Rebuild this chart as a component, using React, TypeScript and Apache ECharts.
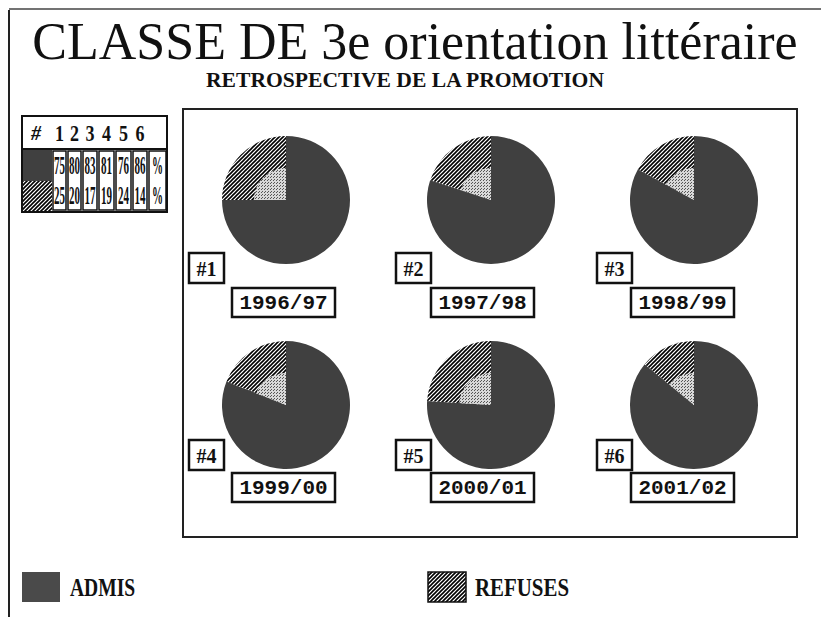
import React, { useEffect, useRef } from "react";
import * as echarts from "echarts";

// ---------------- DATA ----------------
const years = ["1996/97", "1997/98", "1998/99", "1999/00", "2000/01", "2001/02"];
const promoIds = ["#1", "#2", "#3", "#4", "#5", "#6"];
const admis = [75, 80, 83, 81, 76, 86];
const refuses = [25, 20, 17, 19, 24, 14];
const categoryNames = ["ADMIS", "REFUSES"];
const tableHeader = ["#", "1", "2", "3", "4", "5", "6"];
const unitLabel = "%";
const titleText = "CLASSE DE 3e orientation littéraire";
const subtitleText = "RETROSPECTIVE DE LA PROMOTION";

// ---------------- LAYOUT / STYLE ----------------
const DARK = "#404040";
const PIE_CX = [286, 491, 694];
const PIE_CY = [200, 405];
const PIE_R = 64;
const ID_X = [189, 396, 597];
const ID_Y = [253, 440];
const YEAR_X = [232, 431, 631];
const YEAR_Y = [288, 473];
const COL_EDGES = [52, 67, 82, 98, 115, 132, 148, 167];
const SERIF = "'Liberation Serif', 'DejaVu Serif', serif";
const MONO = "'Liberation Mono', 'DejaVu Sans Mono', monospace";

function makeHatch(): any {
  const c = document.createElement("canvas");
  const s = 4;
  c.width = s;
  c.height = s;
  const g = c.getContext("2d")!;
  g.fillStyle = "#ffffff";
  g.fillRect(0, 0, s, s);
  g.strokeStyle = "#000000";
  g.lineWidth = 1.6;
  g.beginPath();
  g.moveTo(-1, 1); g.lineTo(1, -1);
  g.moveTo(0, s); g.lineTo(s, 0);
  g.moveTo(s - 1, s + 1); g.lineTo(s + 1, s - 1);
  g.stroke();
  return { image: c, repeat: "repeat" };
}

function makeDots(): any {
  const c = document.createElement("canvas");
  c.width = 3;
  c.height = 3;
  const g = c.getContext("2d")!;
  g.fillStyle = "#d8d8d8";
  g.fillRect(0, 0, 3, 3);
  g.fillStyle = "#555555";
  g.fillRect(0, 0, 1, 1);
  g.fillRect(1, 2, 1, 1);
  return { image: c, repeat: "repeat" };
}

function txt(text: string, x: number, y: number, font: string, align = "left", extra: any = {}) {
  return {
    type: "text",
    x,
    y,
    silent: true,
    ...extra,
    style: {
      text,
      font,
      fill: "#111",
      textAlign: align,
      align,
      textVerticalAlign: "middle",
      verticalAlign: "middle",
    },
  };
}

export default function App() {
  const ref = useRef<HTMLDivElement>(null);

  useEffect(() => {
    if (!ref.current) return;
    const chart = echarts.init(ref.current, null, { renderer: "svg" });
    const hatch = makeHatch();
    const dots = makeDots();

    const series: any[] = [];
    years.forEach((_, i) => {
      const center = [PIE_CX[i % 3], PIE_CY[Math.floor(i / 3)]];
      series.push({
        type: "pie",
        name: years[i],
        center,
        radius: PIE_R,
        startAngle: 90,
        clockwise: true,
        silent: true,
        label: { show: false },
        labelLine: { show: false },
        itemStyle: { borderWidth: 0 },
        data: [
          { name: categoryNames[0], value: admis[i], itemStyle: { color: DARK } },
          { name: categoryNames[1], value: refuses[i], itemStyle: { color: hatch } },
        ],
      });
      series.push({
        type: "pie",
        name: years[i] + " inner",
        center,
        radius: [0, PIE_R * 0.5],
        startAngle: 90,
        clockwise: true,
        silent: true,
        z: 3,
        label: { show: false },
        labelLine: { show: false },
        itemStyle: { borderWidth: 0 },
        data: [
          { name: categoryNames[0], value: admis[i], itemStyle: { color: "transparent" } },
          { name: categoryNames[1], value: refuses[i], itemStyle: { color: dots } },
        ],
      });
    });

    const graphics: any[] = [];
    // page frame
    graphics.push({ type: "line", shape: { x1: 9, y1: 10, x2: 9, y2: 617 }, style: { stroke: "#222", lineWidth: 2 } });
    graphics.push({ type: "line", shape: { x1: 9, y1: 9, x2: 821, y2: 9 }, style: { stroke: "#444", lineWidth: 1.5 } });
    // titles
    graphics.push(txt(titleText, 415, 41, `52px ${SERIF}`, "center", { scaleY: 1.02 }));
    graphics.push(txt(subtitleText, 405, 80, `bold 21px ${SERIF}`, "center", { scaleX: 1.03 }));
    // main plot box
    graphics.push({ type: "rect", shape: { x: 183, y: 109, width: 614, height: 428 }, style: { fill: "none", stroke: "#222", lineWidth: 2 } });

    // labels per pie
    years.forEach((y, i) => {
      const col = i % 3;
      const row = Math.floor(i / 3);
      graphics.push({ type: "rect", shape: { x: ID_X[col], y: ID_Y[row], width: 35, height: 30 }, style: { fill: "#fff", stroke: "#111", lineWidth: 2.5 } });
      graphics.push(txt(promoIds[i], ID_X[col] + 17.5, ID_Y[row] + 16, `bold 20px ${SERIF}`, "center"));
      graphics.push({ type: "rect", shape: { x: YEAR_X[col], y: YEAR_Y[row], width: 103, height: 29 }, style: { fill: "#fff", stroke: "#111", lineWidth: 2.5 } });
      graphics.push(txt(y, YEAR_X[col] + 51.5, YEAR_Y[row] + 15, `bold 21px ${MONO}`, "center"));
    });

    // data table
    graphics.push({ type: "rect", shape: { x: 22, y: 116, width: 145, height: 96 }, style: { fill: "#fff", stroke: "#111", lineWidth: 2 } });
    graphics.push({ type: "line", shape: { x1: 22, y1: 149, x2: 167, y2: 149 }, style: { stroke: "#111", lineWidth: 2 } });
    graphics.push({ type: "rect", shape: { x: 23, y: 150, width: 29, height: 31 }, style: { fill: DARK } });
    graphics.push({ type: "rect", shape: { x: 23, y: 181, width: 29, height: 30 }, style: { fill: hatch } });
    graphics.push(txt(tableHeader[0], 36, 133, `bold italic 20px ${SERIF}`, "center"));
    for (let j = 0; j < 7; j++) {
      const x0 = COL_EDGES[j];
      const x1 = COL_EDGES[j + 1];
      const cx = (x0 + x1) / 2;
      if (j < 6) graphics.push(txt(tableHeader[j + 1], cx, 133, `bold 18px ${SERIF}`, "center", { scaleY: 1.25 }));
      graphics.push({ type: "rect", shape: { x: x0 + 1, y: 151, width: x1 - x0 - 2, height: 59 }, style: { fill: "#fff", stroke: "#111", lineWidth: 1.5 } });
      const v1 = j < 6 ? String(admis[j]) : unitLabel;
      const v2 = j < 6 ? String(refuses[j]) : unitLabel;
      graphics.push(txt(v1, cx, 166, `bold 13px ${SERIF}`, "center", { scaleY: 1.9, scaleX: 0.85 }));
      graphics.push(txt(v2, cx, 196, `bold 13px ${SERIF}`, "center", { scaleY: 1.9, scaleX: 0.85 }));
    }

    // legend
    graphics.push({ type: "rect", shape: { x: 22, y: 572, width: 38, height: 30 }, style: { fill: "#4a4a4a" } });
    graphics.push(txt(categoryNames[0], 70, 588, `bold 19px ${SERIF}`, "left", { scaleY: 1.3, scaleX: 1.03 }));
    graphics.push({ type: "rect", shape: { x: 428, y: 572, width: 38, height: 30 }, style: { fill: hatch, stroke: "#111", lineWidth: 1.5 } });
    graphics.push(txt(categoryNames[1], 475, 588, `bold 19px ${SERIF}`, "left", { scaleY: 1.3, scaleX: 1.1 }));

    chart.setOption({
      animation: false,
      backgroundColor: "#ffffff",
      series,
      graphic: { elements: graphics },
    });
    return () => chart.dispose();
  }, []);

  return (
    <div
      ref={ref}
      style={{ position: "fixed", left: 0, top: 0, width: 821, height: 617 }}
    />
  );
}
